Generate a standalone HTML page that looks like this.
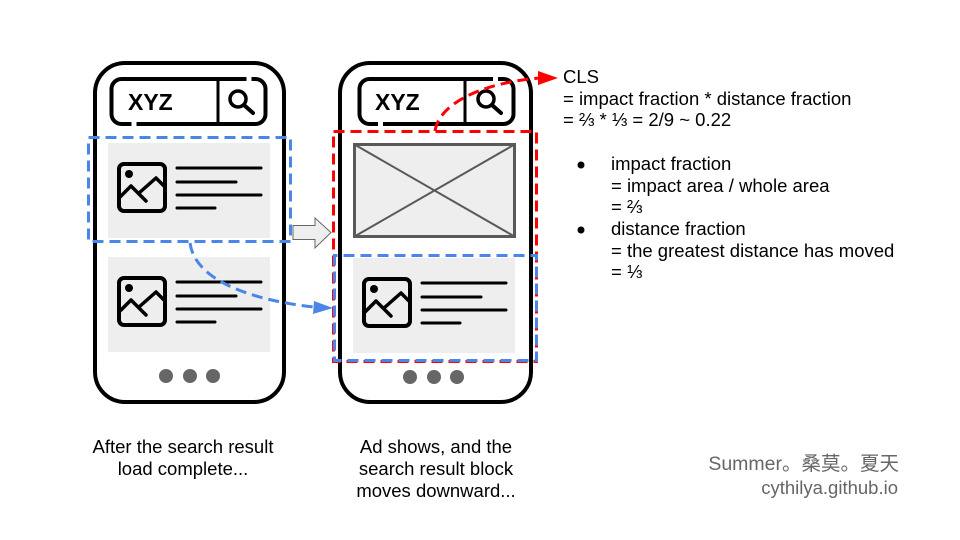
<!DOCTYPE html>
<html><head><meta charset="utf-8"><style>
html,body{margin:0;padding:0;background:#fff;}
svg{display:block;}
text{font-family:"Liberation Sans","Noto Sans CJK SC",sans-serif;}
</style></head><body>
<svg width="960" height="540" viewBox="0 0 960 540" xmlns="http://www.w3.org/2000/svg">
<rect width="960" height="540" fill="#fff"/>

<!-- LEFT PHONE -->
<rect x="95" y="63" width="189" height="339" rx="30" fill="#fff" stroke="#000" stroke-width="4"/>
<rect x="111.5" y="79" width="154" height="45" rx="10" fill="#fff" stroke="#000" stroke-width="4"/>
<rect x="131.5" y="120" width="5" height="8" fill="#fff"/>
<rect x="246.5" y="75" width="5" height="8" fill="#fff"/>
<line x1="218" y1="79" x2="218" y2="124" stroke="#000" stroke-width="3"/>
<text x="128" y="110" font-size="23" font-weight="bold" fill="#000">XYZ</text>
<circle cx="238" cy="99" r="8" fill="none" stroke="#000" stroke-width="3.5"/>
<line x1="244" y1="105" x2="253" y2="113" stroke="#000" stroke-width="4" stroke-linecap="round"/>

<g>
<rect x="108" y="143" width="162" height="95" fill="#eeeeee"/>
<rect x="119" y="164" width="46" height="47" rx="5" fill="none" stroke="#000" stroke-width="4"/>
<circle cx="129" cy="174" r="4" fill="#000"/>
<polyline points="120,197 131,186 146,201" fill="none" stroke="#000" stroke-width="3.5" stroke-linecap="round" stroke-linejoin="round"/>
<polyline points="139,193 156,178 164,186" fill="none" stroke="#000" stroke-width="3.5" stroke-linecap="round" stroke-linejoin="round"/>
<g stroke="#000" stroke-width="3" stroke-linecap="round">
<line x1="177" y1="168" x2="261" y2="168"/>
<line x1="177" y1="182" x2="236" y2="182"/>
<line x1="177" y1="195" x2="261" y2="195"/>
<line x1="177" y1="208" x2="215" y2="208"/>
</g>
</g>
<g transform="translate(0,114)">
<rect x="108" y="143" width="162" height="95" fill="#eeeeee"/>
<rect x="119" y="164" width="46" height="47" rx="5" fill="none" stroke="#000" stroke-width="4"/>
<circle cx="129" cy="174" r="4" fill="#000"/>
<polyline points="120,197 131,186 146,201" fill="none" stroke="#000" stroke-width="3.5" stroke-linecap="round" stroke-linejoin="round"/>
<polyline points="139,193 156,178 164,186" fill="none" stroke="#000" stroke-width="3.5" stroke-linecap="round" stroke-linejoin="round"/>
<g stroke="#000" stroke-width="3" stroke-linecap="round">
<line x1="177" y1="168" x2="261" y2="168"/>
<line x1="177" y1="182" x2="236" y2="182"/>
<line x1="177" y1="195" x2="261" y2="195"/>
<line x1="177" y1="208" x2="215" y2="208"/>
</g>
</g>
<circle cx="166" cy="376" r="7" fill="#666"/>
<circle cx="190" cy="376" r="7" fill="#666"/>
<circle cx="213" cy="376" r="7" fill="#666"/>

<!-- RIGHT PHONE -->
<rect x="340" y="63" width="191" height="339" rx="30" fill="#fff" stroke="#000" stroke-width="4"/>
<rect x="359.5" y="79" width="154" height="45" rx="10" fill="#fff" stroke="#000" stroke-width="4"/>
<rect x="378" y="120" width="5" height="8" fill="#fff"/>
<rect x="493" y="75" width="5" height="8" fill="#fff"/>
<line x1="465" y1="79" x2="465" y2="124" stroke="#000" stroke-width="3"/>
<text x="375" y="110" font-size="23" font-weight="bold" fill="#000">XYZ</text>
<circle cx="486" cy="99" r="8" fill="none" stroke="#000" stroke-width="3.5"/>
<line x1="492" y1="105" x2="501" y2="113" stroke="#000" stroke-width="4" stroke-linecap="round"/>

<!-- Ad box -->
<rect x="354.5" y="144.5" width="160" height="92" fill="#eeeeee" stroke="#595959" stroke-width="3"/>
<line x1="354.5" y1="144.5" x2="514.5" y2="236.5" stroke="#595959" stroke-width="2"/>
<line x1="514.5" y1="144.5" x2="354.5" y2="236.5" stroke="#595959" stroke-width="2"/>

<g transform="translate(245,1)">
<g transform="translate(0,114)">
<rect x="108" y="143" width="162" height="95" fill="#eeeeee"/>
<rect x="119" y="164" width="46" height="47" rx="5" fill="none" stroke="#000" stroke-width="4"/>
<circle cx="129" cy="174" r="4" fill="#000"/>
<polyline points="120,197 131,186 146,201" fill="none" stroke="#000" stroke-width="3.5" stroke-linecap="round" stroke-linejoin="round"/>
<polyline points="139,193 156,178 164,186" fill="none" stroke="#000" stroke-width="3.5" stroke-linecap="round" stroke-linejoin="round"/>
<g stroke="#000" stroke-width="3" stroke-linecap="round">
<line x1="177" y1="168" x2="261" y2="168"/>
<line x1="177" y1="182" x2="236" y2="182"/>
<line x1="177" y1="195" x2="261" y2="195"/>
<line x1="177" y1="208" x2="215" y2="208"/>
</g>
</g>
</g>
<circle cx="410" cy="377" r="7" fill="#666"/>
<circle cx="434" cy="377" r="7" fill="#666"/>
<circle cx="457" cy="377" r="7" fill="#666"/>

<!-- dashed boxes -->
<rect x="88.5" y="137.5" width="202" height="104" fill="none" stroke="#4a86e8" stroke-width="3" stroke-dasharray="11 6"/>
<rect x="333.5" y="131.5" width="203" height="230" fill="none" stroke="#ff0000" stroke-width="3" stroke-dasharray="11 6"/>
<rect x="334.5" y="255.5" width="202" height="105" fill="none" stroke="#4a86e8" stroke-width="3" stroke-dasharray="11 6" stroke-dashoffset="8"/>

<!-- gray block arrow -->
<polygon points="293,225.5 315,225.5 315,218 331,232.5 315,248 315,239.5 293,239.5" fill="#eeeeee" stroke="#666" stroke-width="1"/>

<!-- blue curve -->
<path d="M190,243 C195,280 250,300 314,307" fill="none" stroke="#4a86e8" stroke-width="3" stroke-dasharray="11 6"/>
<polygon points="333,308 314,301 313,314" fill="#4a86e8"/>

<!-- red curve -->
<path d="M435,131 C440,100 490,82 540,78" fill="none" stroke="#ff0000" stroke-width="3" stroke-dasharray="11 6"/>
<polygon points="558,78 538,71 538,85" fill="#ff0000"/>

<!-- right text -->
<g font-size="18.5" fill="#000">
<text x="563" y="83">CLS</text>
<text x="563" y="105">= impact fraction * distance fraction</text>
<text x="563" y="126">= ⅔ * ⅓ = 2/9 ~ 0.22</text>
<circle cx="581" cy="165" r="3.5" fill="#000"/>
<text x="611" y="170">impact fraction</text>
<text x="611" y="192">= impact area / whole area</text>
<text x="611" y="213">= ⅔</text>
<circle cx="581" cy="230" r="3.5" fill="#000"/>
<text x="611" y="235">distance fraction</text>
<text x="611" y="257">= the greatest distance has moved</text>
<text x="611" y="278">= ⅓</text>
</g>

<!-- captions -->
<g font-size="18.5" fill="#000" text-anchor="middle">
<text x="183" y="453">After the search result</text>
<text x="183" y="475">load complete...</text>
<text x="436" y="453">Ad shows, and the</text>
<text x="436" y="475">search result block</text>
<text x="436" y="497">moves downward...</text>
</g>

<!-- watermark -->
<g fill="#666" text-anchor="end">
<text x="899" y="470" font-size="19.5">Summer。桑莫。夏天</text>
<text x="898" y="494" font-size="18.5">cythilya.github.io</text>
</g>
</svg>
</body></html>
